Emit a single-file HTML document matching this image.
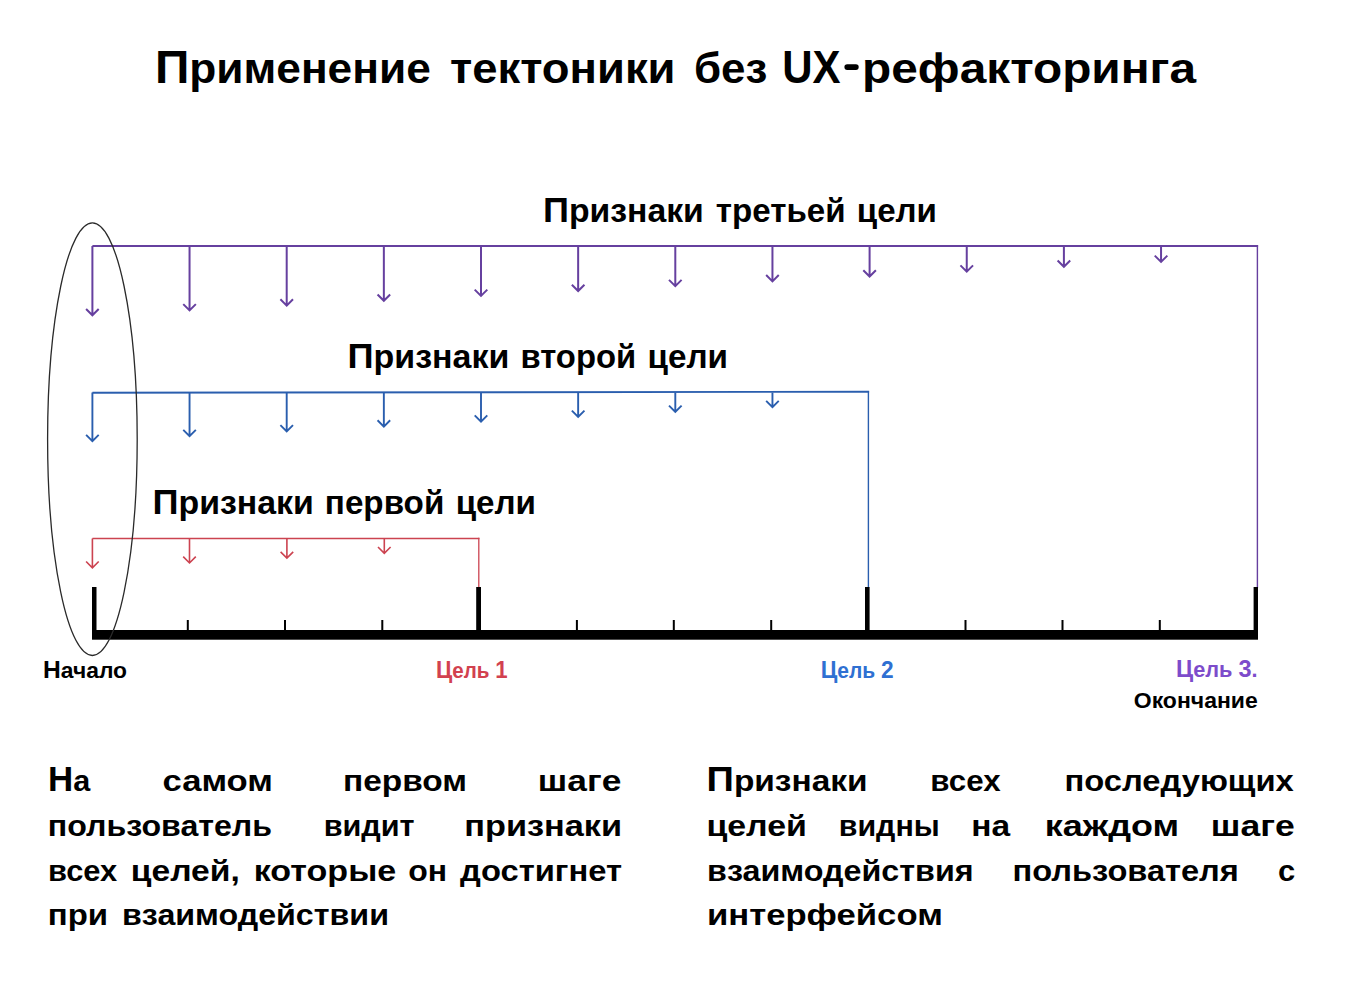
<!DOCTYPE html>
<html><head><meta charset="utf-8"><style>
html,body{margin:0;padding:0;background:#fff;}
body{width:1354px;height:982px;overflow:hidden;}
svg{display:block;}
text{font-family:"Liberation Sans",sans-serif;font-weight:bold;}
</style></head><body>
<svg width="1354" height="982" viewBox="0 0 1354 982">
<rect width="1354" height="982" fill="#fff"/>
<path d="M92.4 246 H1258.1" stroke="#66409f" stroke-width="2" fill="none"/>
<path d="M1257.4 245 V588" stroke="#66409f" stroke-width="1.4" fill="none"/>
<path d="M92.40 246 V315.30 M86.10 309.00 L92.40 315.30 L98.70 309.00" stroke="#66409f" stroke-width="2" fill="none" stroke-linejoin="miter"/>
<path d="M189.55 246 V310.45 M183.25 304.15 L189.55 310.45 L195.85 304.15" stroke="#66409f" stroke-width="2" fill="none" stroke-linejoin="miter"/>
<path d="M286.70 246 V305.60 M280.40 299.30 L286.70 305.60 L293.00 299.30" stroke="#66409f" stroke-width="2" fill="none" stroke-linejoin="miter"/>
<path d="M383.85 246 V300.75 M377.55 294.45 L383.85 300.75 L390.15 294.45" stroke="#66409f" stroke-width="2" fill="none" stroke-linejoin="miter"/>
<path d="M481.00 246 V295.90 M474.70 289.60 L481.00 295.90 L487.30 289.60" stroke="#66409f" stroke-width="2" fill="none" stroke-linejoin="miter"/>
<path d="M578.15 246 V291.05 M571.85 284.75 L578.15 291.05 L584.45 284.75" stroke="#66409f" stroke-width="2" fill="none" stroke-linejoin="miter"/>
<path d="M675.30 246 V286.20 M669.00 279.90 L675.30 286.20 L681.60 279.90" stroke="#66409f" stroke-width="2" fill="none" stroke-linejoin="miter"/>
<path d="M772.45 246 V281.35 M766.15 275.05 L772.45 281.35 L778.75 275.05" stroke="#66409f" stroke-width="2" fill="none" stroke-linejoin="miter"/>
<path d="M869.60 246 V276.50 M863.30 270.20 L869.60 276.50 L875.90 270.20" stroke="#66409f" stroke-width="2" fill="none" stroke-linejoin="miter"/>
<path d="M966.75 246 V271.65 M960.45 265.35 L966.75 271.65 L973.05 265.35" stroke="#66409f" stroke-width="2" fill="none" stroke-linejoin="miter"/>
<path d="M1063.90 246 V266.80 M1057.60 260.50 L1063.90 266.80 L1070.20 260.50" stroke="#66409f" stroke-width="2" fill="none" stroke-linejoin="miter"/>
<path d="M1161.05 246 V261.95 M1154.75 255.65 L1161.05 261.95 L1167.35 255.65" stroke="#66409f" stroke-width="2" fill="none" stroke-linejoin="miter"/>
<path d="M92.4 392.7 L869.1 391.8" stroke="#2a5eae" stroke-width="1.9" fill="none"/>
<path d="M868.4 391 V588" stroke="#2a5eae" stroke-width="1.4" fill="none"/>
<path d="M92.40 392.5 V441.10 M86.10 434.80 L92.40 441.10 L98.70 434.80" stroke="#2a5eae" stroke-width="1.9" fill="none" stroke-linejoin="miter"/>
<path d="M189.55 392.5 V436.25 M183.25 429.95 L189.55 436.25 L195.85 429.95" stroke="#2a5eae" stroke-width="1.9" fill="none" stroke-linejoin="miter"/>
<path d="M286.70 392.5 V431.40 M280.40 425.10 L286.70 431.40 L293.00 425.10" stroke="#2a5eae" stroke-width="1.9" fill="none" stroke-linejoin="miter"/>
<path d="M383.85 392.5 V426.55 M377.55 420.25 L383.85 426.55 L390.15 420.25" stroke="#2a5eae" stroke-width="1.9" fill="none" stroke-linejoin="miter"/>
<path d="M481.00 392.5 V421.70 M474.70 415.40 L481.00 421.70 L487.30 415.40" stroke="#2a5eae" stroke-width="1.9" fill="none" stroke-linejoin="miter"/>
<path d="M578.15 392.5 V416.85 M571.85 410.55 L578.15 416.85 L584.45 410.55" stroke="#2a5eae" stroke-width="1.9" fill="none" stroke-linejoin="miter"/>
<path d="M675.30 392.5 V412.00 M669.00 405.70 L675.30 412.00 L681.60 405.70" stroke="#2a5eae" stroke-width="1.9" fill="none" stroke-linejoin="miter"/>
<path d="M772.45 392.5 V407.15 M766.15 400.85 L772.45 407.15 L778.75 400.85" stroke="#2a5eae" stroke-width="1.9" fill="none" stroke-linejoin="miter"/>
<path d="M92.4 538.4 H479.4" stroke="#cc4350" stroke-width="1.5" fill="none"/>
<path d="M478.8 537.8 V588" stroke="#cc4350" stroke-width="1.3" fill="none"/>
<path d="M92.40 538.4 V567.80 M86.10 561.50 L92.40 567.80 L98.70 561.50" stroke="#cc4350" stroke-width="1.6" fill="none" stroke-linejoin="miter"/>
<path d="M189.50 538.4 V562.97 M183.20 556.67 L189.50 562.97 L195.80 556.67" stroke="#cc4350" stroke-width="1.6" fill="none" stroke-linejoin="miter"/>
<path d="M286.90 538.4 V558.14 M280.60 551.84 L286.90 558.14 L293.20 551.84" stroke="#cc4350" stroke-width="1.6" fill="none" stroke-linejoin="miter"/>
<path d="M384.30 538.4 V553.31 M378.00 547.01 L384.30 553.31 L390.60 547.01" stroke="#cc4350" stroke-width="1.6" fill="none" stroke-linejoin="miter"/>
<rect x="92" y="630" width="1166" height="9.7" fill="#000"/>
<rect x="92" y="587" width="4.50" height="45" fill="#000"/>
<rect x="476.2" y="587" width="4.80" height="45" fill="#000"/>
<rect x="865" y="587" width="4.60" height="45" fill="#000"/>
<rect x="1253.6" y="587" width="4.40" height="45" fill="#000"/>
<rect x="186.80" y="620" width="2" height="12" fill="#000"/>
<rect x="284.00" y="620" width="2" height="12" fill="#000"/>
<rect x="381.30" y="620" width="2" height="12" fill="#000"/>
<rect x="575.90" y="620" width="2" height="12" fill="#000"/>
<rect x="672.80" y="620" width="2" height="12" fill="#000"/>
<rect x="770.20" y="620" width="2" height="12" fill="#000"/>
<rect x="964.50" y="620" width="2" height="12" fill="#000"/>
<rect x="1061.50" y="620" width="2" height="12" fill="#000"/>
<rect x="1158.80" y="620" width="2" height="12" fill="#000"/>
<rect x="844.4" y="64.2" width="14.3" height="5.7" rx="2.85" fill="#000"/>
<ellipse cx="92.4" cy="439.2" rx="44.8" ry="216.3" stroke="#2a2a2a" stroke-width="1.3" fill="none"/>
<text transform="translate(154.91 82.6) scale(1.0299 1)" font-size="43" fill="#000"><tspan font-size="46.44">П</tspan>рименение</text>
<text transform="translate(449.94 82.6) scale(1.0562 1)" font-size="43" fill="#000">тектоники</text>
<text transform="translate(693.98 82.6) scale(1.0220 1)" font-size="43" fill="#000">без</text>
<text transform="translate(782.19 82.6) scale(0.9035 1)" font-size="43" fill="#000"><tspan font-size="46.44">UX</tspan></text>
<text transform="translate(862.08 82.6) scale(1.1119 1)" font-size="43" fill="#000">рефакторинга</text>
<text transform="translate(542.92 222.2) scale(1.0388 1)" font-size="32.5" fill="#000"><tspan font-size="34.77">П</tspan>ризнаки</text>
<text transform="translate(715.70 222.2) scale(1.0200 1)" font-size="32.5" fill="#000">третьей</text>
<text transform="translate(856.76 222.2) scale(1.0201 1)" font-size="32.5" fill="#000">цели</text>
<text transform="translate(347.41 367.9) scale(1.0454 1)" font-size="32.5" fill="#000"><tspan font-size="34.77">П</tspan>ризнаки</text>
<text transform="translate(520.48 367.9) scale(1.0100 1)" font-size="32.5" fill="#000">второй</text>
<text transform="translate(647.45 367.9) scale(1.0241 1)" font-size="32.5" fill="#000">цели</text>
<text transform="translate(152.42 513.5) scale(1.0421 1)" font-size="32.5" fill="#000"><tspan font-size="34.77">П</tspan>ризнаки</text>
<text transform="translate(324.86 513.5) scale(1.0216 1)" font-size="32.5" fill="#000">первой</text>
<text transform="translate(455.66 513.5) scale(1.0214 1)" font-size="32.5" fill="#000">цели</text>
<text transform="translate(43.06 677.9) scale(1.0373 1)" font-size="22" fill="#000"><tspan font-size="23.76">Н</tspan>ачало</text>
<text transform="translate(436.07 677.5) scale(0.9349 1)" font-size="22" fill="#d2414f"><tspan font-size="23.76">Ц</tspan>ель <tspan font-size="23.76">1</tspan></text>
<text transform="translate(820.75 677.5) scale(0.9548 1)" font-size="22" fill="#2f70d2"><tspan font-size="23.76">Ц</tspan>ель <tspan font-size="23.76">2</tspan></text>
<text transform="translate(1176.01 677.3) scale(0.9887 1)" font-size="22" fill="#7d4ccb"><tspan font-size="23.76">Ц</tspan>ель <tspan font-size="23.76">3</tspan>.</text>
<text transform="translate(1133.80 707.6) scale(1.0441 1)" font-size="22.01" fill="#000">Окончание</text>
<text transform="translate(47.96 791.2) scale(1.0204 1)" font-size="30" fill="#000"><tspan font-size="34.20">Н</tspan>а</text>
<text transform="translate(162.44 791.2) scale(1.1556 1)" font-size="30" fill="#000">самом</text>
<text transform="translate(342.97 791.2) scale(1.1156 1)" font-size="30" fill="#000">первом</text>
<text transform="translate(537.84 791.2) scale(1.1777 1)" font-size="30" fill="#000">шаге</text>
<text transform="translate(47.86 835.9) scale(1.0713 1)" font-size="30" fill="#000">пользователь</text>
<text transform="translate(323.66 835.9) scale(1.0212 1)" font-size="30" fill="#000">видит</text>
<text transform="translate(464.21 835.9) scale(1.1440 1)" font-size="30" fill="#000">признаки</text>
<text transform="translate(47.94 880.6) scale(1.0294 1)" font-size="30" fill="#000">всех</text>
<text transform="translate(130.76 880.6) scale(1.1212 1)" font-size="30" fill="#000">целей,</text>
<text transform="translate(253.73 880.6) scale(1.1363 1)" font-size="30" fill="#000">которые</text>
<text transform="translate(408.23 880.6) scale(1.0663 1)" font-size="30" fill="#000">он</text>
<text transform="translate(460.10 880.6) scale(1.0914 1)" font-size="30" fill="#000">достигнет</text>
<text transform="translate(47.80 924.7) scale(1.0983 1)" font-size="30" fill="#000">при</text>
<text transform="translate(122.05 924.7) scale(1.0736 1)" font-size="30" fill="#000">взаимодействии</text>
<text transform="translate(706.47 791.2) scale(1.1150 1)" font-size="30" fill="#000"><tspan font-size="34.20">П</tspan>ризнаки</text>
<text transform="translate(930.31 791.2) scale(1.0446 1)" font-size="30" fill="#000">всех</text>
<text transform="translate(1064.52 791.2) scale(1.0909 1)" font-size="30" fill="#000">последующих</text>
<text transform="translate(706.44 835.9) scale(1.1302 1)" font-size="30" fill="#000">целей</text>
<text transform="translate(838.77 835.9) scale(1.0130 1)" font-size="30" fill="#000">видны</text>
<text transform="translate(971.37 835.9) scale(1.1171 1)" font-size="30" fill="#000">на</text>
<text transform="translate(1044.80 835.9) scale(1.1979 1)" font-size="30" fill="#000">каждом</text>
<text transform="translate(1210.83 835.9) scale(1.1850 1)" font-size="30" fill="#000">шаге</text>
<text transform="translate(707.05 880.6) scale(1.0760 1)" font-size="30" fill="#000">взаимодействия</text>
<text transform="translate(1012.53 880.6) scale(1.0866 1)" font-size="30" fill="#000">пользователя</text>
<text transform="translate(1277.97 880.6) scale(1.0333 1)" font-size="30" fill="#000">с</text>
<text transform="translate(706.89 924.7) scale(1.1565 1)" font-size="30" fill="#000">интерфейсом</text>
</svg>
</body></html>
